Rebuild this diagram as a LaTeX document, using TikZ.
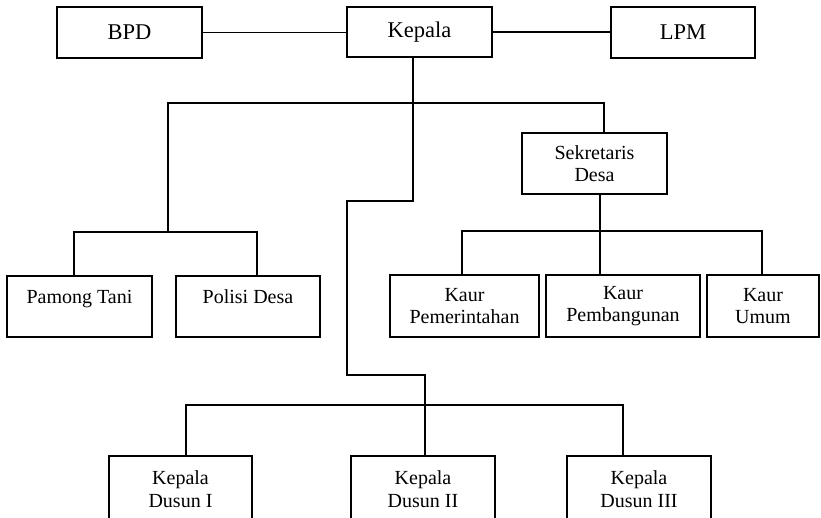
\documentclass[tikz,border=0pt]{standalone}
\usepackage{fontspec}
\setmainfont{Liberation Serif}
\usetikzlibrary{positioning}
\tikzset{topbox/.style={rectangle, draw=black, line width=1.4pt, minimum width=145pt, minimum height=51pt, inner sep=0pt, font=\fontsize{22.5}{26}\selectfont},unitbox/.style={rectangle, draw=black, line width=1.4pt, inner sep=0pt, align=center, font=\fontsize{20}{22.5}\selectfont}}
\tikzset{link/.style={draw=black, line width=1.4pt, line cap=rect}}

\begin{document}
\begin{tikzpicture}
        \useasboundingbox (0pt, 0pt) rectangle (821pt, -518pt);
        \clip (0pt, 0pt) rectangle (821pt, -518pt);
        % Top row
        \node[topbox] (bpd) at (129.5pt, -32.5pt) {BPD};
        \node[topbox, minimum height=50pt] (kepala) at (419.5pt, -32pt) {Kepala};
        \node[topbox, minimum width=144pt] (lpm) at (683pt, -32.5pt) {LPM};
        % Units
        \node[unitbox, minimum width=145pt, minimum height=61pt] (sekretaris) at (594.5pt, -163.5pt) {Sekretaris\\Desa};
        \node[unitbox, minimum width=145pt, minimum height=61pt, text height=14pt, text depth=20pt] (pamong) at (79.5pt, -306.5pt) {Pamong Tani};
        \node[unitbox, minimum width=144pt, minimum height=61pt, text height=14pt, text depth=20pt] (polisi) at (248pt, -306.5pt) {Polisi Desa};
        \node[unitbox, minimum width=149pt, minimum height=62pt] (kaurpem) at (464.5pt, -306pt) {Kaur\\Pemerintahan};
        \node[unitbox, minimum width=154pt, minimum height=62pt] (kaurbang) at (623pt, -306pt) {Kaur\\Pembangunan};
        \node[unitbox, minimum width=112pt, minimum height=62pt] (kaurumum) at (763pt, -306pt) {Kaur\\Umum};
        \node[unitbox, minimum width=143pt, minimum height=66pt] (dusunI) at (180.5pt, -489pt) {Kepala\\Dusun I};
        \node[unitbox, minimum width=144pt, minimum height=66pt] (dusunII) at (423pt, -489pt) {Kepala\\Dusun II};
        \node[unitbox, minimum width=144pt, minimum height=66pt] (dusunIII) at (639pt, -489pt) {Kepala\\Dusun III};
        % Junctions
        \coordinate (k1) at (413pt, -201pt);
        \coordinate (k2) at (347pt, -201pt);
        \coordinate (k3) at (347pt, -375pt);
        \coordinate (k4) at (425pt, -375pt);
        \coordinate (barL) at (168pt, -103pt);
        \coordinate (barR) at (604pt, -103pt);
        \coordinate (stafL) at (74pt, -232pt);
        \coordinate (stafR) at (257pt, -232pt);
        \coordinate (kaurL) at (462pt, -231pt);
        \coordinate (kaurM) at (600pt, -231pt);
        \coordinate (kaurR) at (762pt, -231pt);
        \coordinate (dusL) at (186pt, -405pt);
        \coordinate (dusR) at (623pt, -405pt);
        % Lines
        \draw[link] (bpd.east) -- (bpd.east -| kepala.west);
        \draw[link] (kepala.east) -- (kepala.east -| lpm.west);
        \draw[link] (kepala.south -| k1) -- (k1) -- (k2) -- (k3) -- (k4) -- (k4 |- dusunII.north);
        \draw[link] (sekretaris.north -| barR) -- (barR) -- (barL) -- (barL |- stafL);
        \draw[link] (stafL |- pamong.north) -- (stafL) -- (stafR) -- (stafR |- polisi.north);
        \draw[link] (kaurM |- sekretaris.south) -- (kaurM |- kaurbang.north);
        \draw[link] (kaurL |- kaurpem.north) -- (kaurL) -- (kaurR) -- (kaurR |- kaurumum.north);
        \draw[link] (dusL |- dusunI.north) -- (dusL) -- (dusR) -- (dusR |- dusunIII.north);
    \end{tikzpicture}
\end{document}
